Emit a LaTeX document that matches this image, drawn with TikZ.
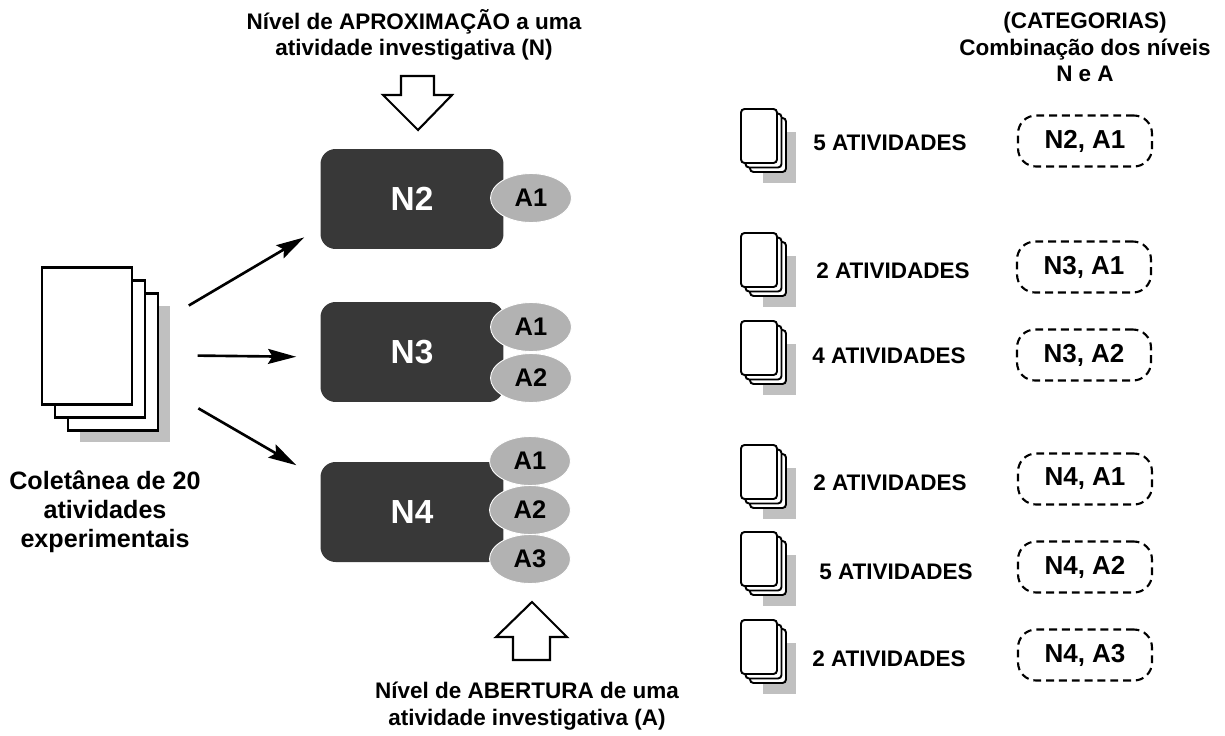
\documentclass[tikz,border=0pt]{standalone}
\usepackage{fontspec}
\setmainfont{Liberation Sans}
\usetikzlibrary{positioning, shapes.geometric, arrows.meta, fit}

\definecolor{cinzaescuro}{HTML}{383838}
\definecolor{cinzaelipse}{HTML}{B2B2B2}
\definecolor{cinzasombra}{HTML}{C0C0C0}

\begin{document}
\begin{tikzpicture}[x=0.02cm, y=-0.02cm,
        rotulo/.style={font=\fontsize{12.8}{15}\selectfont\bfseries, align=center},
        nivel/.style={fill=cinzaescuro, rounded corners=0.3cm, minimum width=3.66cm, minimum height=2cm, text=white, font=\fontsize{19}{22}\selectfont\bfseries},
        abertura/.style={ellipse, fill=cinzaelipse, draw=white, line width=0.5pt, minimum width=1.62cm, minimum height=0.98cm, inner sep=0pt, font=\fontsize{14.5}{17}\selectfont\bfseries},
        folha/.style={draw, fill=white, line width=1.4pt, minimum width=1.8cm, minimum height=2.74cm, inner sep=0pt},
        sombra/.style={fill=cinzasombra, minimum width=1.8cm, minimum height=2.74cm, inner sep=0pt},
        folhinha/.style={draw, fill=white, line width=1.1pt, rounded corners=2pt},
        pics/pilha/.style={code={
            \fill[cinzasombra] (4,-4) rectangle (37,47);
            \draw[folhinha] (-9,-18) rectangle (27,36);
            \draw[folhinha] (-13.5,-22.5) rectangle (22.5,31.5);
            \draw[folhinha] (-18,-27) rectangle (18,27);
        }},
        quantidade/.style={font=\fontsize{12.8}{15}\selectfont\bfseries, anchor=west, inner sep=0pt},
        categoria/.style={draw, dash pattern=on 4.5pt off 2.8pt, line width=1.2pt, rounded corners=0.36cm, minimum width=2.68cm, minimum height=1.02cm, font=\fontsize{14.8}{17}\selectfont\bfseries},
        seta/.style={-{Stealth[length=16pt, width=8.5pt, inset=2.5pt]}, line width=1.5pt},
        bloco/.style={draw, line width=1.2pt, fill=white, line join=miter},
    ]
        \useasboundingbox (0,0) rectangle (1225,735);

        % coletanea de atividades
        \node[sombra]                          (sombra1)   at (125,374) {};
        \node[folha]                           (folha3)    at (113,362) {};
        \node[folha]                           (folha2)    at (100,349) {};
        \node[folha]                           (folha1)    at (87,336)  {};
        \node[fit=(folha1)(sombra1), inner sep=0pt] (colecao) {};
        \node[rotulo, font=\fontsize{14.3}{16.4}\selectfont\bfseries] (coletanea) at (105,512) {Coletânea de 20\\atividades\\experimentais};

        % niveis N e aberturas A
        \node[nivel]    (N2)   at (412,199) {N2};
        \node[abertura] (N2A1) at (531,198) {A1};
        \node[nivel]    (N3)   at (412,352) {N3};
        \node[abertura] (N3A1) at (531,327) {A1};
        \node[abertura] (N3A2) at (531,378) {A2};
        \node[nivel]    (N4)   at (412,512) {N4};
        \node[abertura] (N4A1) at (530,461) {A1};
        \node[abertura] (N4A2) at (530,510) {A2};
        \node[abertura] (N4A3) at (530,559) {A3};

        \draw[seta, shorten <=0.42cm, shorten >=0.37cm] (colecao) -- ([yshift=-0.58cm]N2.west);
        \draw[seta, shorten <=0.54cm, shorten >=0.48cm] (colecao) -- ([yshift=-0.1cm]N3.west);
        \draw[seta, shorten <=0.64cm, shorten >=0.55cm] (colecao) -- ([yshift=0.66cm]N4.west);

        % setas largas
        \draw[bloco] (401,76) -- (434,76) -- (434,95) -- (452,95) -- (418,130) -- (383,95) -- (401,95) -- cycle;
        \draw[bloco] (513,660) -- (513,637) -- (496,637) -- (532,602) -- (567,637) -- (550,637) -- (550,660) -- cycle;

        \node[rotulo] (aproximacao) at (414,35)  {Nível de APROXIMAÇÃO a uma\\atividade investigativa (N)};
        \node[rotulo] (txtabertura) at (527,706) {Nível de ABERTURA de uma\\atividade investigativa (A)};
        \node[rotulo] (categorias)  at (1085,47) {(CATEGORIAS)\\Combinação dos níveis\\N e A};

        % categorias
        \pic at (759,136) {pilha};
        \node[quantidade] (q1) at (813,143) {5 ATIVIDADES};
        \node[categoria]  (c1) at (1085,141) {N2, A1};
        \pic at (759,260) {pilha};
        \node[quantidade] (q2) at (816,271) {2 ATIVIDADES};
        \node[categoria]  (c2) at (1084,267) {N3, A1};
        \pic at (759,348) {pilha};
        \node[quantidade] (q3) at (812,356) {4 ATIVIDADES};
        \node[categoria]  (c3) at (1084,355) {N3, A2};
        \pic at (759,472) {pilha};
        \node[quantidade] (q4) at (813,483) {2 ATIVIDADES};
        \node[categoria]  (c4) at (1085,479) {N4, A1};
        \pic at (759,559) {pilha};
        \node[quantidade] (q5) at (819,572) {5 ATIVIDADES};
        \node[categoria]  (c5) at (1085,567) {N4, A2};
        \pic at (759,647) {pilha};
        \node[quantidade] (q6) at (812,659) {2 ATIVIDADES};
        \node[categoria]  (c6) at (1085,655) {N4, A3};
    \end{tikzpicture}
\end{document}
